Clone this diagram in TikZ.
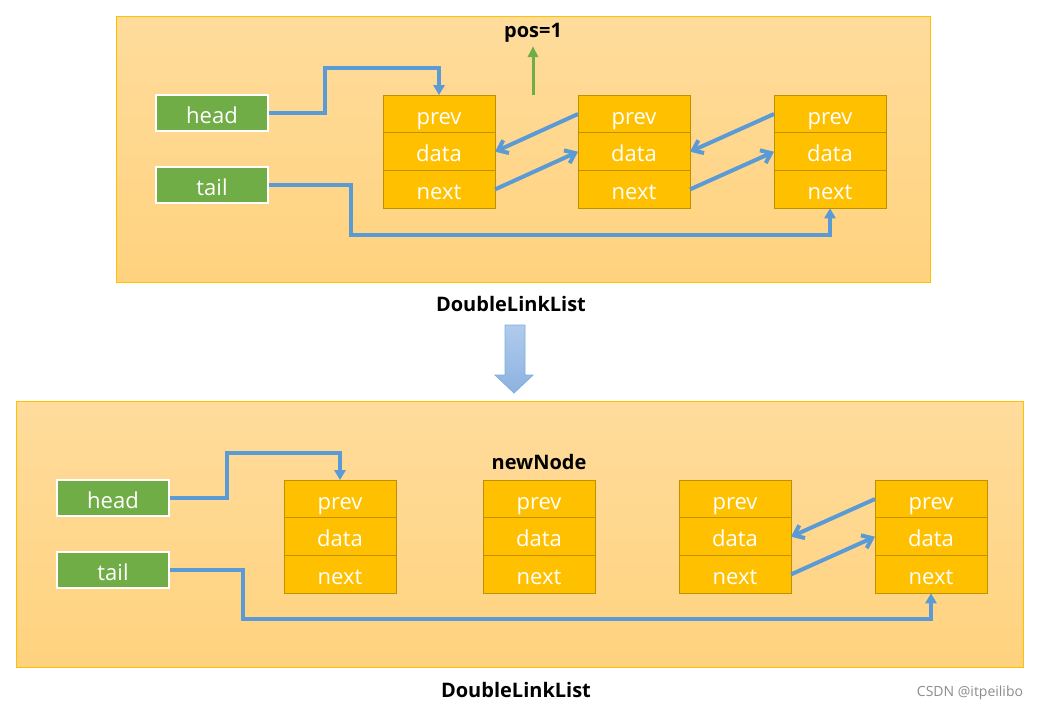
\documentclass[tikz,border=0pt]{standalone}
\usepackage{fontspec}
\setmainfont{Open Sans}
\usepackage{tikz}
\usetikzlibrary{positioning,arrows.meta}
\definecolor{gold}{HTML}{FFC000}
\definecolor{celldark}{HTML}{BF9000}
\definecolor{paneltop}{HTML}{FFDC9C}
\definecolor{panelbot}{HTML}{FFD27E}
\definecolor{ptrgreen}{HTML}{70AD47}
\definecolor{linkblue}{HTML}{5B9BD5}
\definecolor{bigtop}{HTML}{B0CBEC}
\definecolor{bigbot}{HTML}{8CB2E0}

\begin{document}
\begin{tikzpicture}[x=1pt,y=-1pt]
    \tikzstyle{panelbox}=[draw=gold,line width=1pt,top color=paneltop,bottom color=panelbot]
    \tikzstyle{ptr}=[fill=ptrgreen,draw=white,line width=2pt,text=white,minimum width=112pt,minimum height=36pt,inner sep=0pt,text height=21pt,text depth=1pt,font=\fontsize{22}{26}\selectfont]
    \tikzstyle{cell}=[fill=gold,draw=celldark,line width=1pt,outer sep=0pt,text=white,minimum width=112pt,minimum height=37.7pt,inner sep=0pt,text height=21pt,text depth=1pt,font=\fontsize{22}{26}\selectfont]
    \tikzstyle{link}=[draw=linkblue,line width=4pt]
    \tikzstyle{fixed}=[-{Triangle[width=11pt,length=10pt]}]
    \tikzstyle{barb}=[-{Straight Barb[width=14pt,length=9pt,line width=4pt]}]
    \tikzstyle{listname}=[font=\bfseries\fontsize{20}{24}\selectfont]
    \useasboundingbox (0,0) rectangle (1040,712);

    % before the insert
    \fill[panelbox] (116,16) rectangle (930,282);

    \node[ptr](1head) at (212,113){head};
    \node[ptr](1tail) at (212,185){tail};

    \node[cell](1prevA) at (439,114){prev};
    \node[cell,below=0pt of 1prevA](1dataA){data};
    \node[cell,below=0pt of 1dataA](1nextA){next};
    \node[cell](1prevB) at (634,114){prev};
    \node[cell,below=0pt of 1prevB](1dataB){data};
    \node[cell,below=0pt of 1dataB](1nextB){next};
    \node[cell](1prevC) at (830,114){prev};
    \node[cell,below=0pt of 1prevC](1dataC){data};
    \node[cell,below=0pt of 1dataC](1nextC){next};

    \node[listname](1pos) at (533,33){pos=1};
    \coordinate (1mark) at (533,95);
    \draw[draw=ptrgreen,line width=3pt,-{Triangle[width=10pt,length=11pt]}] (1mark) -- (1pos.south);

    \coordinate (1hbend) at (325,68);
    \coordinate (1tbend) at (351,235);
    \draw[link,fixed] (1head.east) -| (1hbend) -| (1prevA.north);
    \draw[link,fixed] (1tail.east) -| (1tbend) -| (1nextC.south);
    \draw[link,barb] (1prevB.west) -- (1dataA.east);
    \draw[link,barb] (1nextA.east) -- (1dataB.west);
    \draw[link,barb] (1prevC.west) -- (1dataB.east);
    \draw[link,barb] (1nextB.east) -- (1dataC.west);

    \node[listname](1name) at (511,304){DoubleLinkList};

    % big arrow
    \shade[top color=bigtop,bottom color=bigbot,draw=linkblue!80,line width=0.8pt]
        (505,325) -- (525,325) -- (525,375) -- (533,375) -- (514,393) -- (495,375) -- (505,375) -- cycle;

    % after the insert
    \fill[panelbox] (16,401) rectangle (1023,667);

    \node[ptr](2head) at (113,498){head};
    \node[ptr](2tail) at (113,570){tail};

    \node[cell](2prevA) at (340,499){prev};
    \node[cell,below=0pt of 2prevA](2dataA){data};
    \node[cell,below=0pt of 2dataA](2nextA){next};
    \node[cell](2prevN) at (539,499){prev};
    \node[cell,below=0pt of 2prevN](2dataN){data};
    \node[cell,below=0pt of 2dataN](2nextN){next};
    \node[cell](2prevC) at (735,499){prev};
    \node[cell,below=0pt of 2prevC](2dataC){data};
    \node[cell,below=0pt of 2dataC](2nextC){next};
    \node[cell](2prevD) at (931,499){prev};
    \node[cell,below=0pt of 2prevD](2dataD){data};
    \node[cell,below=0pt of 2dataD](2nextD){next};

    \node[listname](2new) at (539,462){newNode};

    \coordinate (2hbend) at (227,453);
    \coordinate (2tbend) at (243,619);
    \draw[link,fixed] (2head.east) -| (2hbend) -| (2prevA.north);
    \draw[link,fixed] (2tail.east) -| (2tbend) -| (2nextD.south);
    \draw[link,barb] (2prevD.west) -- (2dataC.east);
    \draw[link,barb] (2nextC.east) -- (2dataD.west);

    \node[listname](2name) at (516,690){DoubleLinkList};
    \node[text=black!45,font=\fontsize{14}{16}\selectfont](mark) at (970,693){CSDN @itpeilibo};
\end{tikzpicture}
\end{document}
